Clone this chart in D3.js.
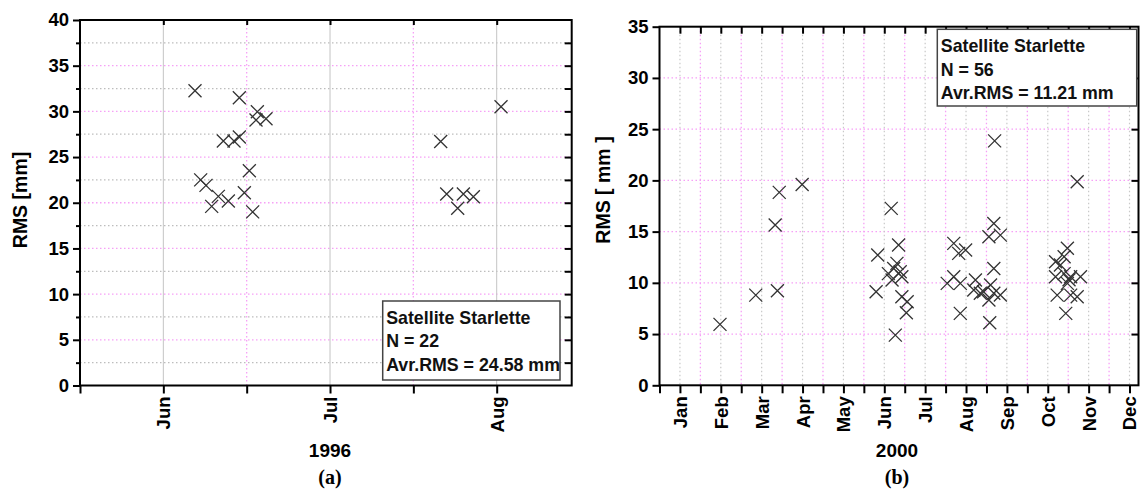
<!DOCTYPE html>
<html><head><meta charset="utf-8">
<script src="https://cdn.jsdelivr.net/npm/d3@7"></script>
<style>
body{margin:0;background:#fff;}
svg{display:block;font-family:"Liberation Sans",Arial,sans-serif;}
</style></head><body>
<svg id="c" width="1140" height="492"></svg>
<script>
// ---------- DATA ----------
const monthNames = ["Jan","Feb","Mar","Apr","May","Jun","Jul","Aug","Sep","Oct","Nov","Dec"];

// Panel (a) 1996: x = month position (6 = Jun), y = RMS in mm
const aMonthTicks = [6, 7, 8];
const aMonth = [6.190, 6.224, 6.256, 6.290, 6.330, 6.360, 6.390, 6.424, 6.456, 6.456, 6.486,
                6.516, 6.536, 6.556, 6.564, 6.616, 7.664, 7.700, 7.766, 7.800, 7.860, 8.026];
const aRms   = [32.25, 22.5, 21.9, 19.6, 20.7, 26.75, 20.2, 26.75, 27.2, 31.5, 21.1,
                23.5, 19.0, 29.05, 29.96, 29.2, 26.7, 20.95, 19.4, 20.95, 20.65, 30.5];
const aYTicks = [0, 5, 10, 15, 20, 25, 30, 35, 40];
const aLegend = ["Satellite Starlette", "N = 22", "Avr.RMS = 24.58 mm"];

// Panel (b) 2000
const bMonthTicks = [1,2,3,4,5,6,7,8,9,10,11,12];
const bMonth = [1.98, 2.855, 3.33, 3.385, 3.43, 3.99,
  5.80, 5.84, 6.10, 6.17, 6.19, 6.23, 6.27, 6.31, 6.35, 6.39, 6.43, 6.43, 6.54, 6.56,
  7.54, 7.70, 7.70, 7.82, 7.86, 7.86, 7.99, 8.19, 8.23, 8.35, 8.43, 8.56, 8.56, 8.58, 8.60, 8.68, 8.68, 8.68, 8.70, 8.84, 8.84,
  10.19, 10.19, 10.23, 10.31, 10.40, 10.40, 10.44, 10.48, 10.48, 10.52, 10.56, 10.56, 10.72, 10.72, 10.80];
const bRms = [5.95, 8.8, 15.64, 9.23, 18.83, 19.6,
  9.13, 12.71, 10.9, 17.27, 10.27, 11.4, 4.9, 11.9, 13.69, 11.08, 10.6, 8.64, 7.08, 8.16,
  9.95, 13.85, 10.6, 12.88, 9.95, 7.02, 13.2, 9.3, 10.27, 8.98, 9.13, 14.5, 8.32, 6.11, 9.79, 15.8, 11.4, 8.98, 23.86, 14.66, 8.81,
  12.06, 10.6, 8.8, 11.74, 12.55, 10.9, 7.02, 13.37, 9.95, 10.3, 10.6, 8.8, 8.64, 19.86, 10.6];
const bYTicks = [0, 5, 10, 15, 20, 25, 30, 35];
const bLegend = ["Satellite Starlette", "N = 56", "Avr.RMS = 11.21 mm"];

// ---------- DRAW ----------
const svg = d3.select("#c");
const PINK = "#f6a0f6", GRAY = "#c4c4c4";

function panel(cfg) {
  const g = svg.append("g");
  const x = d3.scaleLinear().domain(cfg.xDomain).range([cfg.left, cfg.right]);
  const y = d3.scaleLinear().domain(cfg.yDomain).range([cfg.bottom, cfg.top]);
  const halfTicks = d3.range(cfg.xDomain[0], cfg.xDomain[1] + 1e-9, 0.5);
  const midTicks = halfTicks.filter(v => !cfg.monthTicks.includes(v) && v > cfg.xDomain[0]);
  const yMinor = cfg.yMinor ? d3.range(cfg.yDomain[0] + cfg.yStep/2, cfg.yDomain[1], cfg.yStep) : [];

  // grid
  const grid = g.append("g");
  yMinor.forEach(v => grid.append("line").attr("x1", cfg.left).attr("x2", cfg.right)
    .attr("y1", y(v)).attr("y2", y(v)).attr("stroke", "#bdbdbd").attr("stroke-width", 1.2).attr("stroke-dasharray", "1.5,2.5"));
  cfg.yTicks.filter(v => v > cfg.yDomain[0] && v < cfg.yDomain[1]).forEach(v =>
    grid.append("line").attr("x1", cfg.left).attr("x2", cfg.right)
      .attr("y1", y(v)).attr("y2", y(v)).attr("stroke", PINK).attr("stroke-width", 1.3).attr("stroke-dasharray", "1.5,2.5"));
  cfg.monthTicks.forEach(v => grid.append("line").attr("x1", x(v)).attr("x2", x(v))
    .attr("y1", cfg.top).attr("y2", cfg.bottom)
    .attr("stroke", cfg.monthSolid ? GRAY : "#c8c8c8").attr("stroke-width", cfg.monthSolid ? 1 : 1.2)
    .attr("stroke-dasharray", cfg.monthSolid ? null : "1.5,2.5"));
  midTicks.forEach(v => grid.append("line").attr("x1", x(v)).attr("x2", x(v))
    .attr("y1", cfg.top).attr("y2", cfg.bottom).attr("stroke", PINK).attr("stroke-width", 1.3).attr("stroke-dasharray", "1.5,2.5"));

  // axes
  const styleAxis = sel => { sel.select(".domain").remove(); sel.selectAll("line").attr("stroke", "#000").attr("stroke-width", 2); };
  const tickFont = sel => sel.selectAll("text").attr("font-size", 18.5).attr("font-weight", "bold")
    .attr("fill", "#000").attr("font-family", '"Liberation Sans",Arial,sans-serif');

  const bottomAx = g.append("g").attr("transform", `translate(0,${cfg.bottom})`)
    .call(d3.axisBottom(x).tickValues(halfTicks).tickSize(8).tickSizeOuter(0)
      .tickFormat(v => cfg.monthTicks.includes(v) ? monthNames[v - 1] : ""));
  styleAxis(bottomAx); tickFont(bottomAx);
  bottomAx.selectAll("text").attr("transform", "rotate(-90)").attr("x", -11).attr("y", 0)
    .attr("dy", "0.35em").attr("text-anchor", "end");

  const topAx = g.append("g").attr("transform", `translate(0,${cfg.top})`)
    .call(d3.axisTop(x).tickValues(halfTicks.filter(v => v > cfg.xDomain[0])).tickSize(-cfg.topTick).tickSizeOuter(0).tickFormat(""));
  styleAxis(topAx);

  const leftAx = g.append("g").attr("transform", `translate(${cfg.left},0)`)
    .call(d3.axisLeft(y).tickValues(cfg.yTicks).tickSize(7).tickPadding(4).tickSizeOuter(0));
  styleAxis(leftAx); tickFont(leftAx);
  if (yMinor.length) {
    const lm = g.append("g").attr("transform", `translate(${cfg.left},0)`)
      .call(d3.axisLeft(y).tickValues(yMinor).tickSize(4).tickFormat(""));
    styleAxis(lm);
  }
  const rightAx = g.append("g").attr("transform", `translate(${cfg.right},0)`)
    .call(d3.axisRight(y).tickValues(cfg.yTicks.concat(yMinor).filter(v => v > cfg.yDomain[0] && v < cfg.yDomain[1]))
      .tickSize(-7).tickFormat(""));
  styleAxis(rightAx);

  // frame
  g.append("rect").attr("x", cfg.left).attr("y", cfg.top).attr("width", cfg.right - cfg.left)
    .attr("height", cfg.bottom - cfg.top).attr("fill", "none").attr("stroke", "#000").attr("stroke-width", 2);

  // markers
  const s = 6.5;
  const pts = cfg.xs.map((v, i) => [x(v), y(cfg.ys[i])]);
  g.append("g").selectAll("path").data(pts).join("path")
    .attr("d", d => `M${d[0]-s},${d[1]-s}L${d[0]+s},${d[1]+s}M${d[0]-s},${d[1]+s}L${d[0]+s},${d[1]-s}`)
    .attr("stroke", "#333").attr("stroke-width", 1.3).attr("fill", "none");

  // legend
  const lg = g.append("g");
  lg.append("rect").attr("x", cfg.leg.x).attr("y", cfg.leg.y).attr("width", cfg.leg.w).attr("height", cfg.leg.h)
    .attr("fill", "#fff").attr("stroke", "#444").attr("stroke-width", 1.5);
  cfg.legend.forEach((t, i) => lg.append("text").attr("x", cfg.leg.x + 3.5).attr("y", cfg.leg.y + 23 + i * 23.3)
    .attr("font-size", 17.8).attr("font-weight", "bold").attr("fill", "#111").text(t));

  // titles
  g.append("text").attr("transform", `translate(${cfg.ytX},${(cfg.ytY)}) rotate(-90)`)
    .attr("text-anchor", "middle").attr("font-size", 19.5).attr("font-weight", "bold").text(cfg.yTitle);
  const cx = cfg.xtX;
  g.append("text").attr("x", cx).attr("y", 457).attr("text-anchor", "middle")
    .attr("font-size", 19).attr("font-weight", "bold").text(cfg.xTitle);
  g.append("text").attr("x", cx).attr("y", 484).attr("text-anchor", "middle")
    .attr("font-size", 20).attr("font-weight", "bold").attr("font-family", '"Liberation Serif","Times New Roman",serif').text(cfg.label);
}

panel({
  xDomain: [5.5, 8.45], yDomain: [0, 40], left: 80, right: 571.7, top: 20, bottom: 385.5,
  monthTicks: aMonthTicks, monthSolid: true, yTicks: aYTicks, yStep: 5, yMinor: true, topTick: 5,
  xs: aMonth, ys: aRms, legend: aLegend, leg: {x: 382.7, y: 301, w: 177.3, h: 79},
  yTitle: "RMS [mm]", ytX: 27, ytY: 200, xTitle: "1996", xtX: 330, label: "(a)"
});
panel({
  xDomain: [0.5, 12.22], yDomain: [0, 35], left: 659.5, right: 1138.5, top: 26.7, bottom: 385.3,
  monthTicks: bMonthTicks, monthSolid: false, yTicks: bYTicks, yStep: 5, yMinor: false, topTick: 7,
  xs: bMonth, ys: bRms, legend: bLegend, leg: {x: 937.3, y: 29.3, w: 199.4, h: 76.7},
  yTitle: "RMS [ mm ]", ytX: 610, ytY: 190, xTitle: "2000", xtX: 897, label: "(b)"
});
</script></body></html>
